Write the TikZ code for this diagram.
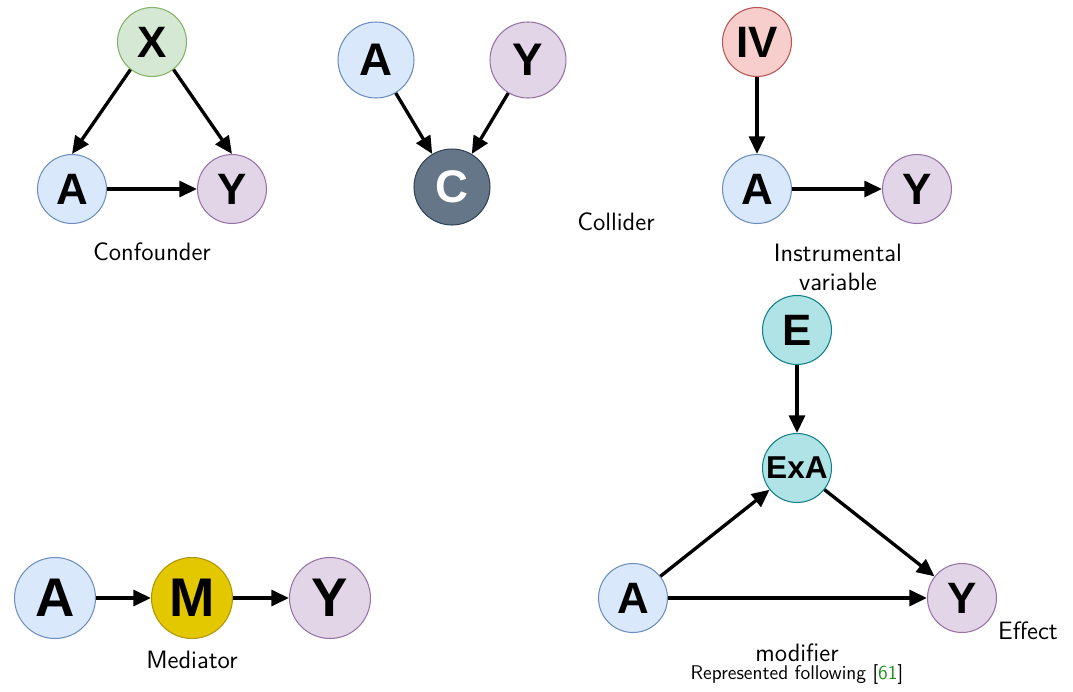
\documentclass[tikz,border=0pt]{standalone}
\usepackage{fontspec}
\newfontfamily\letterfont{Liberation Sans}
\usepackage{tikz}
\usetikzlibrary{arrows.meta}

\definecolor{blueF}{HTML}{DAE8FC}\definecolor{blueD}{HTML}{6C8EBF}
\definecolor{greenF}{HTML}{D5E8D4}\definecolor{greenD}{HTML}{82B366}
\definecolor{purpleF}{HTML}{E1D5E7}\definecolor{purpleD}{HTML}{9673A6}
\definecolor{redF}{HTML}{F8CECC}\definecolor{redD}{HTML}{B85450}
\definecolor{cyanF}{HTML}{B0E3E6}\definecolor{cyanD}{HTML}{0E8088}
\definecolor{yellowF}{HTML}{E3C800}\definecolor{yellowD}{HTML}{B09500}
\definecolor{slateF}{HTML}{647687}\definecolor{slateD}{HTML}{314354}
\definecolor{citeG}{HTML}{1F8F1F}

\tikzset{
	var/.style={circle, draw, line width=0.6pt, inner sep=0pt, minimum size=1.38cm,
		font=\letterfont\bfseries\fontsize{25}{25}\selectfont},
	bigvar/.style={var, minimum size=1.62cm, font=\letterfont\bfseries\fontsize{31}{31}\selectfont},
	midvar/.style={var, minimum size=1.52cm, font=\letterfont\bfseries\fontsize{26}{26}\selectfont},
	treat/.style={fill=blueF, draw=blueD},
	outc/.style={fill=purpleF, draw=purpleD},
	edge/.style={line width=1.9pt, -{Triangle[length=10pt, width=9pt]}},
	caption/.style={font=\sffamily\fontsize{14.3}{16.5}\selectfont, align=center}
}

\begin{document}
\begin{tikzpicture}[x=0.02cm, y=-0.02cm]
		%%%%% START %%%%%
		\useasboundingbox (0, 0) rectangle (1073, 691);
		
		% confounder
		\node[var, fill=greenF, draw=greenD] (cX) at (152, 42) {X};
		\node[var, treat] (cA) at (72, 189) {A};
		\node[var, outc] (cY) at (232, 189) {Y};
		\draw[edge] (cX.232) -- (cA.north);
		\draw[edge] (cX.308) -- (cY.north);
		\draw[edge] (cA) -- (cY);
		\node[caption] (cLab) at (152, 252) {Confounder};
		
		% collider
		\node[midvar, treat] (kA) at (376, 60) {A};
		\node[midvar, outc] (kY) at (528, 60) {Y};
		\node[midvar, fill=slateF, draw=slateD, text=white] (kC) at (452, 187) {C};
		\draw[edge] (kA) -- (kC);
		\draw[edge] (kY) -- (kC);
		\node[caption] (kLab) at (616, 222) {Collider};
		
		% instrumental variable
		\node[var, fill=redF, draw=redD] (iIV) at (757, 42) {IV};
		\node[var, treat] (iA) at (757, 189) {A};
		\node[var, outc] (iY) at (917, 189) {Y};
		\draw[edge] (iIV) -- (iA);
		\draw[edge] (iA) -- (iY);
		\node[caption] (iLab) at (838, 267) {Instrumental\\variable};
		
		% mediator
		\node[bigvar, treat] (mA) at (55, 598) {A};
		\node[bigvar, fill=yellowF, draw=yellowD] (mM) at (192, 598) {M};
		\node[bigvar, outc] (mY) at (330, 598) {Y};
		\draw[edge] (mA) -- (mM);
		\draw[edge] (mM) -- (mY);
		\node[caption] (mLab) at (192, 660) {Mediator};
		
		% effect modifier
		\node[var, fill=cyanF, draw=cyanD] (eE) at (797, 330) {E};
		\node[var, fill=cyanF, draw=cyanD, font=\letterfont\bfseries\fontsize{18}{18}\selectfont] (eExA) at (797, 468) {ExA};
		\node[var, treat] (eA) at (633, 598) {A};
		\node[var, outc] (eY) at (962, 598) {Y};
		\draw[edge] (eE) -- (eExA);
		\draw[edge] (eA) -- (eExA);
		\draw[edge] (eExA) -- (eY);
		\draw[edge] (eA) -- (eY);
		\node[caption] (eLab1) at (1028, 631) {Effect};
		\node[caption] (eLab2) at (797, 653) {modifier};
		\node[caption, font=\sffamily\fontsize{11.3}{13}\selectfont] (eLab3) at (797, 675) {Represented following [\textcolor{citeG}{61}]};
		
		%%%%% END %%%%%
	\end{tikzpicture}
\end{document}
